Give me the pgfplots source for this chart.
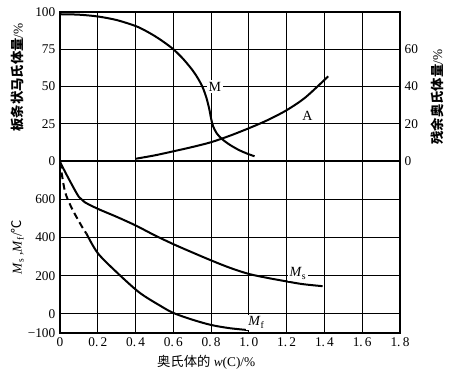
\documentclass[border=0pt]{standalone}
\usepackage{fontspec}
\setmainfont{Liberation Serif}
\newfontfamily\cjk{Noto Sans CJK SC}
\usepackage{pgfplots}
\pgfplotsset{compat=1.18}
\pgfplotsset{
  base/.style={
    width=255pt, scale only axis,
    xmin=0, xmax=1.8,
    xtick={0,0.2,0.4,0.6,0.8,1.0,1.2,1.4,1.6,1.8},
    grid=major,
    major grid style={black, line width=0.9pt},
    axis line style={black, line width=1.1pt},
    tick style={draw=none},
    tick label style={font=\fontsize{10}{11}\selectfont},
    label style={font=\fontsize{10.5}{12}\selectfont},
    /pgf/number format/assume math mode=true,
  },
  curve/.style={black, line width=1.5pt, no marks, smooth},
}
\begin{document}
\begin{tikzpicture}
\useasboundingbox (-45pt,-31.5pt) rectangle (294pt,249.75pt);
% top panel, left axis
\begin{axis}[base,
  at={(0,129pt)}, anchor=south west, height=111.75pt,
  ymin=0, ymax=100, ytick={0,25,50,75,100},
  xticklabels={},
  ylabel={{\cjk\bfseries 板条状马氏体量}/\%},
  every axis y label/.style={at={(axis description cs:-0.125,0.56)}, rotate=90, anchor=center},
]
\addplot[curve] coordinates {(0,98.5) (0.1,98.2) (0.2,97.0) (0.3,94.6) (0.4,90.6) (0.45,87.6) (0.5,84.0) (0.55,79.8) (0.6,75.0) (0.65,68.8) (0.7,61.2) (0.73,55.5) (0.755,49.5) (0.775,42.5) (0.79,35) (0.8,28.5) (0.81,23.5) (0.83,18.5) (0.86,14.5) (0.9,10.8) (0.95,7.2) (1.0,4.5) (1.03,3.2)};
\node[fill=white, inner sep=1.5pt, font=\fontsize{10.5}{12}\selectfont] at (axis cs:0.82,50) {M};
\end{axis}
% top panel, right axis
\begin{axis}[base,
  at={(0,129pt)}, anchor=south west, height=111.75pt,
  grid=none,
  ymin=0, ymax=80, ytick={0,20,40,60},
  axis y line*=right, axis x line=none,
  ylabel={{\cjk\bfseries 残余奥氏体量}/\%},
  every axis y label/.style={at={(axis description cs:1.109,0.43)}, rotate=90, anchor=center},
]
\addplot[curve] coordinates {(0.4,1.2) (0.5,3) (0.6,5.2) (0.7,7.5) (0.8,10.1) (0.9,13.6) (1.0,17.6) (1.1,22.0) (1.2,27.3) (1.3,34.2) (1.42,45.5)};
\node[font=\fontsize{10.5}{12}\selectfont] at (axis cs:1.31,24) {A};
\end{axis}
% bottom panel
\begin{axis}[base,
  at={(0,0)}, anchor=south west, height=129pt,
  ymin=-100, ymax=800, ytick={-100,0,200,400,600},
  yticklabels={−100,0,200,400,600},
  xticklabels={0,0.\,2,0.\,4,0.\,6,0.\,8,1.\,0,1.\,2,1.\,4,1.\,6,1.\,8},
  xlabel={{\cjk 奥氏体的} \textit{w}(C)/\%},
  ylabel={\textit{M}\textsubscript{s}\,,\textit{M}\textsubscript{f}/{\cjk ℃}},
  every axis y label/.style={at={(axis description cs:-0.125,0.5)}, rotate=90, anchor=center},
  every axis x label/.style={at={(axis description cs:0.43,0)}, yshift=-22pt, anchor=center},
]
\addplot[curve] coordinates {(0,795) (0.05,700) (0.1,612) (0.13,585) (0.2,550) (0.3,508) (0.4,463) (0.5,412) (0.6,365) (0.695,324) (0.8,280) (0.9,241) (1.0,209) (1.1,188) (1.2,170) (1.283,156) (1.39,145)};
\addplot[black, line width=1.5pt, no marks, smooth, dash pattern=on 5pt off 3pt] coordinates {(0,795) (0.026,642) (0.063,552) (0.116,457) (0.14,420)};
\addplot[curve] coordinates {(0.14,420) (0.2,318) (0.3,218) (0.42,112) (0.53,43) (0.6,5) (0.7,-30) (0.8,-58) (0.9,-75) (1.0,-85)};
\node[fill=white, inner sep=1.5pt, font=\fontsize{10.5}{12}\selectfont] at (axis cs:1.26,212) {\textit{M}\textsubscript{s}};
\node[fill=white, inner sep=1.5pt, font=\fontsize{10.5}{12}\selectfont] at (axis cs:1.04,-45) {\textit{M}\textsubscript{f}};
\end{axis}
\end{tikzpicture}
\end{document}
